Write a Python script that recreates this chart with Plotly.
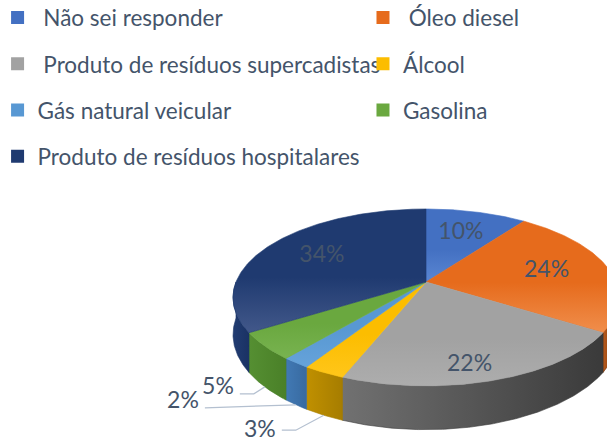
import numpy as np
import plotly.graph_objects as go

# ---------------- data ----------------
categories = [
    "Não sei responder",
    "Óleo diesel",
    "Produto de resíduos supercadistas",
    "Álcool",
    "Gás natural veicular",
    "Gasolina",
    "Produto de resíduos hospitalares",
]
values = [10, 24, 22, 3, 2, 5, 34]

# ---------------- styles ----------------
top_light = ["#5a86d2", "#f08e4c", "#adadad", "#ffc61a", "#66a3da", "#78b350", "#42588a"]
top_dark = ["#4370c2", "#e66b1c", "#a2a2a2", "#fcbd00", "#5898d3", "#6aa83f", "#1f3a70"]
wall_left = ["#3a64b0", "#b85a1c", "#717171", "#c09000", "#4179b4", "#558f32", "#213c72"]
wall_right = ["#2f559a", "#6b2f07", "#3a3a3a", "#a67d00", "#386aa0", "#4a8028", "#1a3264"]
legend_pad = ["\u00a0", "\u00a0", "\u00a0", "", "", "", ""]
legend_col = ["legend", "legend2", "legend", "legend2", "legend", "legend2", "legend"]
# outside labels: (line-end dx, line-end dy from wall anchor, text dy from line)
outside_style = {
    3: (-42, 15, 1),
    2: (-91, 3, -6),
    5: (-25, 7, -6),
}
TXT = "#44546A"
LINE = "#b4c0d0"
FONT = "Lato, Carlito, Calibri, Liberation Sans, sans-serif"

W, H = 607, 441
CX, CY = 426, 282      # pie apex on screen
S = 190                 # horizontal radius
A = 85.8                # vertical radius factor
P = 0.175               # perspective factor
DEPTH = 36              # wall depth
LABEL_R = 0.66


def proj(theta, r=1.0, drop=0.0):
    t = np.radians(theta)
    X = r * np.sin(t)
    Z = -r * np.cos(t)
    w = 1 - Z * P
    return CX + S * X / w, CY + (A * Z + drop) / w


total = float(sum(values))
bounds = np.concatenate([[0.0], np.cumsum(values) / total * 360.0])

fig = go.Figure()

# side walls (front half only)
for i, v in enumerate(values):
    a, b = bounds[i], bounds[i + 1]
    lo, hi = max(a, 90.0), min(b, 270.0)
    if hi <= lo:
        continue
    th = np.linspace(lo, hi, max(3, int((hi - lo) * 2)))
    xt, yt = proj(th)
    xb, yb = proj(th[::-1], drop=DEPTH)
    xs = np.concatenate([xt, xb, xt[:1]])
    ys = np.concatenate([yt, yb, yt[:1]])
    fig.add_trace(go.Scatter(
        x=xs, y=ys, mode="lines", fill="toself",
        fillgradient=dict(type="horizontal",
                          colorscale=[[0, wall_left[i]], [1, wall_right[i]]]),
        line=dict(width=0.6, color=wall_right[i]),
        hoverinfo="skip", showlegend=False))

# top faces
for i, v in enumerate(values):
    a, b = bounds[i], bounds[i + 1]
    th = np.linspace(a, b, max(3, int((b - a) * 2)))
    xa, ya = proj(th)
    xs = np.concatenate([[CX], xa, [CX]])
    ys = np.concatenate([[CY], ya, [CY]])
    fig.add_trace(go.Scatter(
        x=xs, y=ys, mode="lines", fill="toself",
        fillgradient=dict(type="vertical",
                          colorscale=[[0, top_light[i]], [0.45, top_dark[i]], [1, top_dark[i]]]),
        line=dict(width=0.6, color=top_dark[i]),
        hoverinfo="skip", showlegend=False))

# data labels
in_x, in_y, in_t = [], [], []
for i, v in enumerate(values):
    mid = (bounds[i] + bounds[i + 1]) / 2
    txt = f"{v}%"
    if v in outside_style:
        ax, ay = proj(mid, drop=DEPTH)
        dx, dy, tdy = outside_style[v]
        ex, ey = ax + dx, ay + dy
        fig.add_trace(go.Scatter(
            x=[ax, ex + 14, ex], y=[ay, ey, ey], mode="lines",
            line=dict(color=LINE, width=1.2), hoverinfo="skip", showlegend=False))
        fig.add_trace(go.Scatter(
            x=[ex - 6], y=[ey + tdy], mode="text", text=[txt],
            textposition="middle left",
            textfont=dict(family=FONT, size=23, color=TXT),
            hoverinfo="skip", showlegend=False))
    else:
        z = -np.cos(np.radians(mid))
        lx, ly = proj(mid, r=LABEL_R, drop=DEPTH * 0.6 * max(z, 0.0))
        in_x.append(lx)
        in_y.append(ly)
        in_t.append(txt)
fig.add_trace(go.Scatter(
    x=in_x, y=in_y, mode="text", text=in_t, textposition="middle center",
    textfont=dict(family=FONT, size=23, color=TXT),
    hoverinfo="skip", showlegend=False))

# legend entries
for i, c in enumerate(categories):
    fig.add_trace(go.Scatter(
        x=[None], y=[None], mode="markers", name=legend_pad[i] + c,
        marker=dict(symbol="square", size=13, color=top_dark[i]),
        legend=legend_col[i], legendgroup=f"g{i}", hoverinfo="skip"))

leg_common = dict(
    orientation="v", yanchor="top", xanchor="left",
    bgcolor="rgba(0,0,0,0)", font=dict(family=FONT, size=22.5, color=TXT),
    tracegroupgap=14, itemclick=False, itemdoubleclick=False)

fig.update_layout(
    width=W, height=H,
    margin=dict(l=0, r=0, t=0, b=0, autoexpand=False),
    paper_bgcolor="white", plot_bgcolor="white",
    xaxis=dict(range=[0, W], visible=False, fixedrange=True),
    yaxis=dict(range=[H, 0], visible=False, fixedrange=True),
    showlegend=True,
    legend=dict(x=-0.004, y=1.008, **leg_common),
    legend2=dict(x=0.598, y=1.008, **leg_common),
    hovermode=False,
)

fig.write_html("out.html", config={"displayModeBar": False},
               post_script="document.body.style.margin='0';")
